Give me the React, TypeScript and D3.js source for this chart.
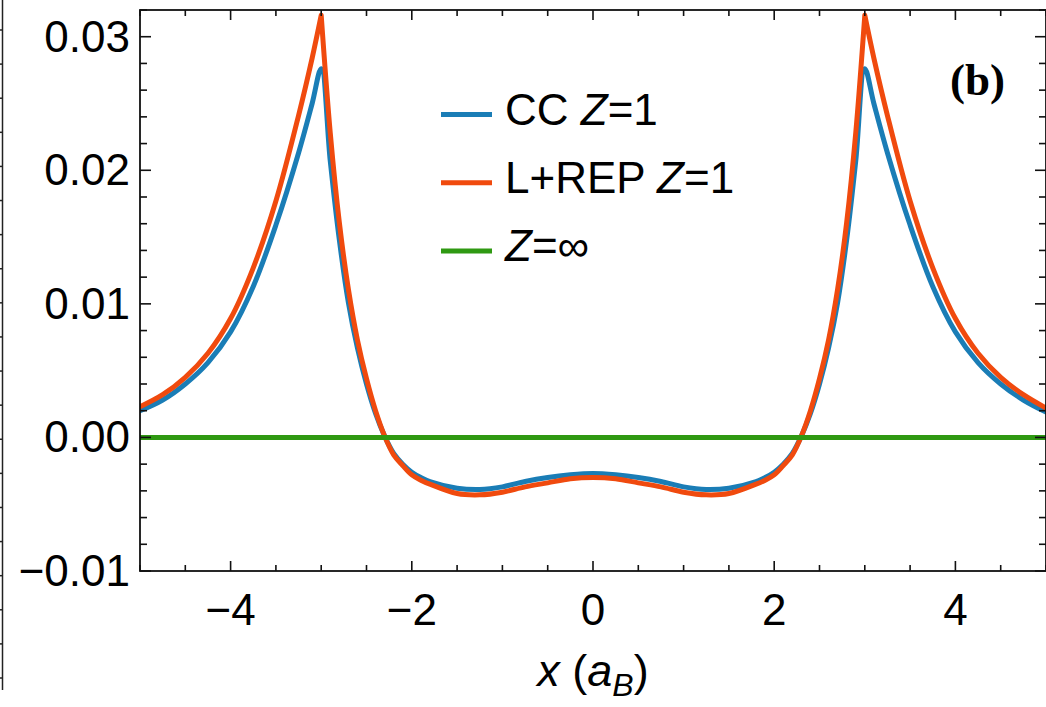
import React from "react";
import * as d3 from "d3";

const xs = [-5, -4.75, -4.5, -4.25, -4, -3.75, -3.5, -3.25, -3.1, -3, -2.9, -2.8, -2.7, -2.6, -2.5, -2.4, -2.3, -2.2, -2.1, -2, -1.9, -1.8, -1.5, -1.25, -1, -0.75, -0.5, -0.25, 0,
  0.25, 0.5, 0.75, 1, 1.25, 1.5, 1.8, 1.9, 2, 2.1, 2.2, 2.3, 2.4, 2.5, 2.6, 2.7, 2.8, 2.9, 3, 3.1, 3.25, 3.5, 3.75, 4, 4.25, 4.5, 4.75, 5];

const ccZ1 = [0.0020, 0.0028, 0.0040, 0.0056, 0.0079, 0.0113, 0.0159, 0.0213, 0.0250, 0.0276, 0.0207, 0.0148, 0.0101, 0.0067, 0.0040, 0.0018, 0.0001, -0.0012, -0.0020, -0.0026, -0.0030, -0.0033, -0.0038, -0.0039, -0.0037, -0.0033, -0.0030, -0.0028, -0.0027,
  -0.0028, -0.0030, -0.0033, -0.0037, -0.0039, -0.0038, -0.0033, -0.0030, -0.0026, -0.0020, -0.0012, 0.0001, 0.0018, 0.0040, 0.0067, 0.0101, 0.0148, 0.0207, 0.0276, 0.0250, 0.0213, 0.0159, 0.0113, 0.0079, 0.0056, 0.0040, 0.0028, 0.0019];

const lrepZ1 = [0.0023, 0.0032, 0.0045, 0.0063, 0.0089, 0.0127, 0.0177, 0.0241, 0.0284, 0.0316, 0.0228, 0.0161, 0.0111, 0.0073, 0.0044, 0.0020, 0.0001, -0.0013, -0.0021, -0.0028, -0.0032, -0.0035, -0.0042, -0.0043, -0.0041, -0.0037, -0.0034, -0.0031, -0.0030,
  -0.0031, -0.0034, -0.0037, -0.0041, -0.0043, -0.0042, -0.0035, -0.0032, -0.0028, -0.0021, -0.0013, 0.0001, 0.0020, 0.0044, 0.0073, 0.0111, 0.0161, 0.0228, 0.0316, 0.0284, 0.0241, 0.0177, 0.0127, 0.0089, 0.0063, 0.0045, 0.0032, 0.0022];

const zInf = xs.map(() => 0);

const cusps = [-3, 3];
const yMajor = [-0.01, 0, 0.01, 0.02, 0.03];
const xMajor = [-4, -2, 0, 2, 4];

const legendItems = [
  { name: "CC", suffix: "=1", color: "#1a7db6" },
  { name: "L+REP", suffix: "=1", color: "#f04a0e" },
  { name: "", suffix: "=\u221E", color: "#2f9912" },
];

const W = 1046, H = 707;
const L = 140, R = 1046, T = 10, B = 571;

const fmt = (v: number) => {
  const s = d3.format(".2f")(Math.abs(v));
  return v < -1e-9 ? "\u2212" + s : s;
};
const fmtX = (v: number) => (v < 0 ? "\u2212" + Math.abs(v) : String(v));

export default function App() {
  const x = d3.scaleLinear().domain([-5, 5]).range([L, R]);
  const y = d3.scaleLinear().domain([-0.01, 0.032]).range([B, T]);

  const pts = (vals: number[]) => xs.map((xv, i) => [xv, vals[i]] as [number, number]);
  const line = d3.line<[number, number]>().x(d => x(d[0])).y(d => y(d[1])).curve(d3.curveCatmullRom.alpha(0.5));

  // split at cusps so the peaks stay sharp
  const splitPath = (vals: number[]) => {
    const p = pts(vals);
    const bounds = [-5, ...cusps, 5];
    let out = "";
    for (let k = 0; k < bounds.length - 1; k++) {
      const seg = p.filter(d => d[0] >= bounds[k] - 1e-9 && d[0] <= bounds[k + 1] + 1e-9);
      out += line(seg) || "";
    }
    return out;
  };

  const yMinor = d3.range(-0.01, 0.0321, 0.002);
  const xMinor = d3.range(-5, 5.01, 0.5);

  const leftPanel = d3.scaleLinear().domain([0, 19]).range([30, 678]);

  const font = "'Liberation Sans', Arial, Helvetica, sans-serif";
  const lw = 5;

  return (
    <svg width={W} height={H} style={{ position: "absolute", left: 0, top: 0, background: "#fff" }}>
      <rect x={0} y={0} width={W} height={H} fill="#fff" />
      {/* neighbouring panel edge */}
      <line x1={2.5} x2={2.5} y1={0} y2={690} stroke="#222" strokeWidth={1.5} />
      {d3.range(20).map(i => (
        <line key={"lp" + i} x1={0} x2={2.5} y1={leftPanel(i)} y2={leftPanel(i)} stroke="#222" strokeWidth={1.5} />
      ))}

      <defs>
        <clipPath id="plotclip">
          <rect x={L} y={T} width={R - L} height={B - T} />
        </clipPath>
      </defs>

      <g clipPath="url(#plotclip)" fill="none" strokeLinejoin="round" strokeLinecap="round">
        <path d={line(pts(ccZ1)) || ""} stroke={legendItems[0].color} strokeWidth={lw} />
        <path d={splitPath(lrepZ1)} stroke={legendItems[1].color} strokeWidth={lw} />
        <path d={line(pts(zInf)) || ""} stroke={legendItems[2].color} strokeWidth={lw} />
      </g>

      {/* frame */}
      <rect x={L} y={T} width={R - L} height={B - T} fill="none" stroke="#111" strokeWidth={1.8} />

      {yMinor.map((v, i) => {
        const major = yMajor.some(m => Math.abs(m - v) < 1e-6);
        const len = major ? 11 : 7;
        return (
          <g key={"yt" + i} stroke="#111" strokeWidth={1.6}>
            <line x1={L} x2={L + len} y1={y(v)} y2={y(v)} />
            <line x1={R} x2={R - len} y1={y(v)} y2={y(v)} />
          </g>
        );
      })}
      {xMinor.map((v, i) => {
        const major = xMajor.some(m => Math.abs(m - v) < 1e-6);
        const len = major ? 10 : 6;
        return (
          <g key={"xt" + i} stroke="#111" strokeWidth={1.6}>
            <line x1={x(v)} x2={x(v)} y1={B} y2={B - len} />
            <line x1={x(v)} x2={x(v)} y1={T} y2={T + len} />
          </g>
        );
      })}

      {yMajor.map((v, i) => (
        <text key={"yl" + i} x={130} y={y(v) + 15} textAnchor="end" fontFamily={font} fontSize={44} fill="#000">
          {fmt(v)}
        </text>
      ))}
      {xMajor.map((v, i) => (
        <text key={"xl" + i} x={x(v)} y={625} textAnchor="middle" fontFamily={font} fontSize={44} fill="#000">
          {fmtX(v)}
        </text>
      ))}

      <text x={x(0)} y={686} textAnchor="middle" fontFamily={font} fontSize={45} fill="#000">
        <tspan fontStyle="italic">x</tspan>
        <tspan> (</tspan>
        <tspan fontStyle="italic">a</tspan>
        <tspan fontStyle="italic" fontSize={32} dy={10}>B</tspan>
        <tspan dy={-10}>)</tspan>
      </text>

      {legendItems.map((it, i) => {
        const ly = 114.5 + i * 68.3;
        return (
          <g key={"lg" + i}>
            <line x1={441} x2={492} y1={ly} y2={ly} stroke={it.color} strokeWidth={lw} />
            <text x={505} y={ly + 10} fontFamily={font} fontSize={44} fill="#000">
              {it.name ? <tspan>{it.name + " "}</tspan> : null}
              <tspan fontStyle="italic">Z</tspan>
              <tspan>{it.suffix}</tspan>
            </text>
          </g>
        );
      })}

      <text x={950} y={95} fontFamily="'Liberation Serif', 'Times New Roman', serif" fontWeight="bold" fontSize={45} fill="#000">
        (b)
      </text>
    </svg>
  );
}
